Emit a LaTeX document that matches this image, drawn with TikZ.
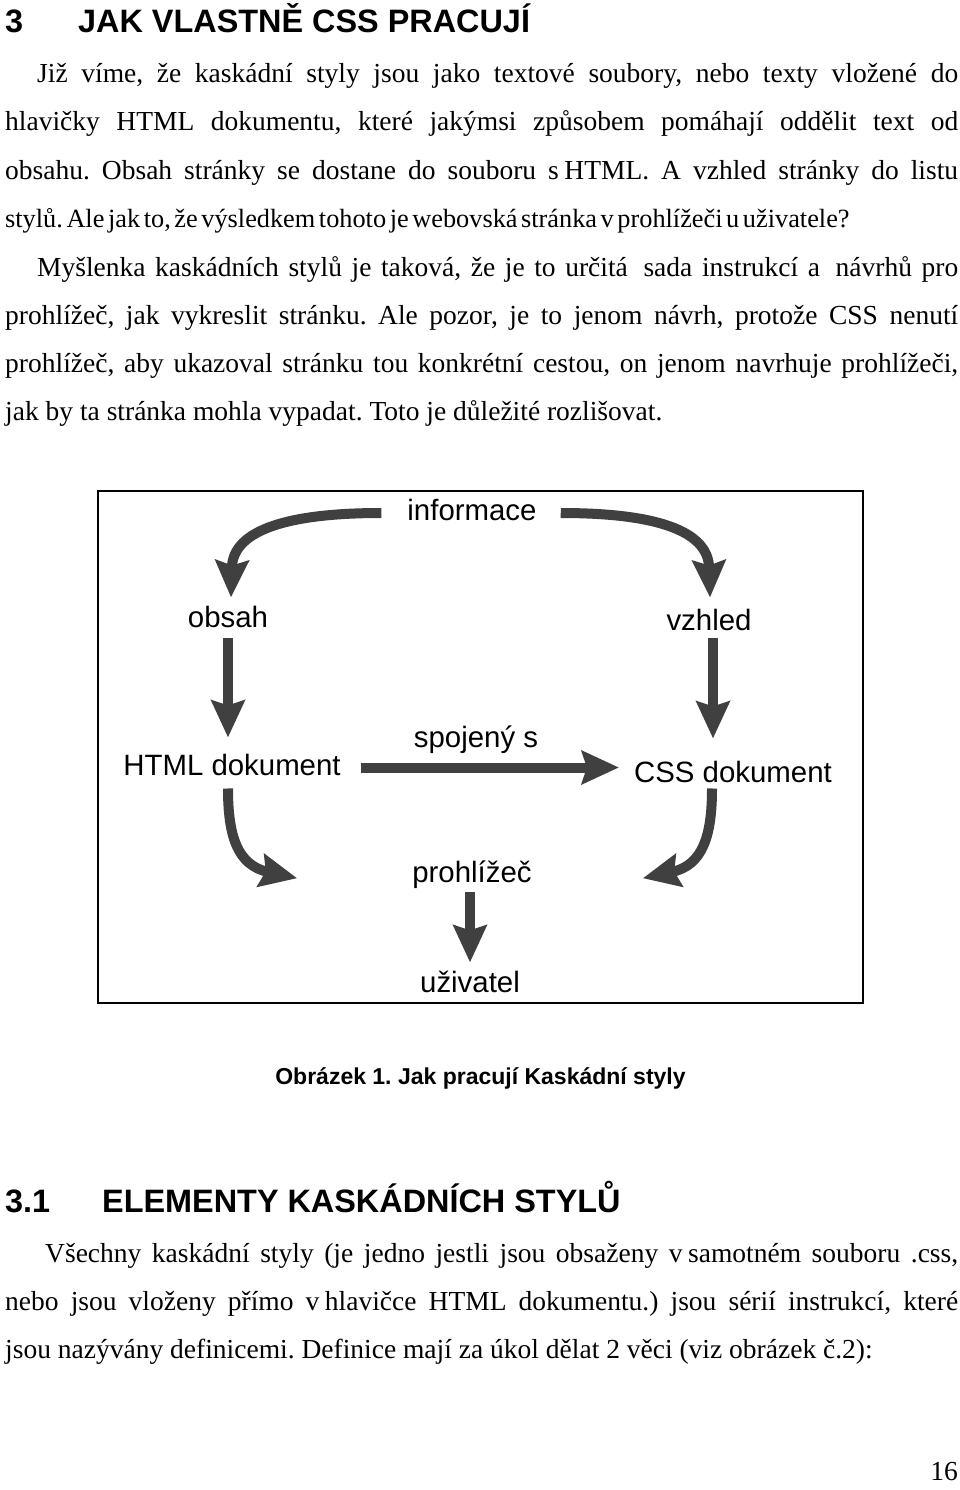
\documentclass[tikz,border=0pt]{standalone}
\usepackage{fontspec}
\setmainfont{Liberation Serif}
\newfontfamily\headsans{Liberation Sans}
\usepackage{tikz}
\usetikzlibrary{arrows.meta}
\frenchspacing

\definecolor{arrowgray}{RGB}{64,64,64}
\newcommand\bodyfont{\fontsize{27.5}{33}\selectfont}
\newcommand\headfont{\headsans\bfseries\fontsize{32.4}{38}\selectfont}
\newcommand\lblfont{\headsans\fontsize{29.4}{35}\selectfont}

\tikzset{
  textline/.style={anchor=base west, inner sep=0pt, font=\bodyfont},
  headline/.style={anchor=base west, inner sep=0pt, font=\headfont},
  lbl/.style={anchor=base, inner sep=0pt, font=\lblfont},
  bigarrow/.style={draw=arrowgray, line width=10pt,
    -{Stealth[length=37pt, width=33pt, inset=5pt]}},
}

\begin{document}
\begin{tikzpicture}[x=1pt, y=-1pt]
      \fill[white] (0,0) rectangle (960,1490);
      \useasboundingbox (0,0) rectangle (960,1490);

      % chapter heading
      \node[headline] (h1num) at (5,33) {3};
      \node[headline] (h1) at (78,33) {JAK VLASTNĚ CSS PRACUJÍ};

      % first paragraph
      \node[textline] (p1a) at (37,83)  {\makebox[921pt][s]{Již víme, že kaskádní styly jsou jako textové soubory, nebo texty vložené do}};
      \node[textline] (p1b) at (5,131)  {\makebox[953pt][s]{hlavičky HTML dokumentu, které jakýmsi způsobem pomáhají oddělit text od}};
      \node[textline] (p1c) at (5,179)  {\makebox[953pt][s]{obsahu. Obsah stránky se dostane do souboru s\kern0.2em HTML. A vzhled stránky do listu}};
      \node[textline, font=\fontsize{26.3}{32}\selectfont] (p1d) at (5,227)  {\spaceskip=3.6pt\relax stylů. Ale jak to, že výsledkem tohoto je webovská stránka v prohlížeči u uživatele?};

      % second paragraph
      \node[textline] (p2a) at (37,276) {\makebox[921pt][s]{Myšlenka kaskádních stylů je taková, že je to určitá\hspace{6pt} sada instrukcí a\hspace{6pt} návrhů pro}};
      \node[textline] (p2b) at (5,324)  {\makebox[953pt][s]{prohlížeč, jak vykreslit stránku. Ale pozor, je to jenom návrh, protože CSS nenutí}};
      \node[textline] (p2c) at (5,372)  {\makebox[953pt][s]{prohlížeč, aby ukazoval stránku tou konkrétní cestou, on jenom navrhuje prohlížeči,}};
      \node[textline] (p2d) at (5,420)  {jak by ta stránka mohla vypadat. Toto je důležité rozlišovat.};

      % figure frame
      \draw[line width=2pt] (98,491) rectangle (863,1003);

      % figure labels
      \node[lbl] (info)    at (472,520) {informace};
      \node[lbl] (obsah)   at (228,627) {obsah};
      \node[lbl] (vzhled)  at (709,630) {vzhled};
      \node[lbl] (html)    at (232,775) {HTML dokument};
      \node[lbl] (spojeny) at (476,747) {spojený s};
      \node[lbl] (css)     at (733,782) {CSS dokument};
      \node[lbl] (prohl)   at (472,882) {prohlížeč};
      \node[lbl] (uziv)    at (470,992) {uživatel};

      % figure arrows
      \draw[bigarrow] ([shift={(-26pt,7pt)}]info.base west) .. controls +(-92,0) and +(2,-68) .. ([shift={(3pt,8pt)}]obsah.north);
      \draw[bigarrow] ([shift={(24pt,7pt)}]info.base east) .. controls +(92,0) and +(-2,-68) .. ([shift={(1pt,11pt)}]vzhled.north);
      \draw[bigarrow] ([yshift=-11pt]obsah.south) -- ([yshift=16pt]html.north -| obsah.south);
      \draw[bigarrow] ([shift={(4pt,-8pt)}]vzhled.south) -- ([shift={(-20pt,22pt)}]css.north);
      \draw[bigarrow] ([shift={(20pt,-3pt)}]html.east) -- ([shift={(-15pt,4pt)}]css.west);
      \draw[bigarrow] ([shift={(-4pt,-13pt)}]html.south) .. controls +(0,47) and +(-60,-13) .. ([shift={(-115pt,-4pt)}]prohl.west);
      \draw[bigarrow] ([shift={(-21pt,-6pt)}]css.south) .. controls +(0,47) and +(60,-13) .. ([shift={(111pt,-4pt)}]prohl.east);
      \draw[bigarrow] ([shift={(-2pt,-4pt)}]prohl.south) -- ([yshift=8pt]uziv.north);

      % caption
      \node[anchor=base, inner sep=0pt, font=\headsans\bfseries\fontsize{23}{28}\selectfont] (caption) at (480.5,1084) {Obrázek 1. Jak pracují Kaskádní styly};

      % section heading
      \node[headline] (h2num) at (5,1212) {3.1};
      \node[headline] (h2) at (102,1212) {ELEMENTY KASKÁDNÍCH STYLŮ};

      % third paragraph
      \node[textline] (p3a) at (45,1262) {\makebox[913pt][s]{Všechny kaskádní styly (je jedno jestli jsou obsaženy v\kern0.2em samotném souboru .css,}};
      \node[textline] (p3b) at (5,1310)  {\makebox[953pt][s]{nebo jsou vloženy přímo v\kern0.2em hlavičce HTML dokumentu.) jsou sérií instrukcí, které}};
      \node[textline] (p3c) at (5,1358)  {jsou nazývány definicemi. Definice mají za úkol dělat 2 věci (viz obrázek č.2):};

      % page number
      \node[anchor=base east, inner sep=0pt, font=\bodyfont] (pagenum) at (958,1480) {16};
\end{tikzpicture}
\end{document}
